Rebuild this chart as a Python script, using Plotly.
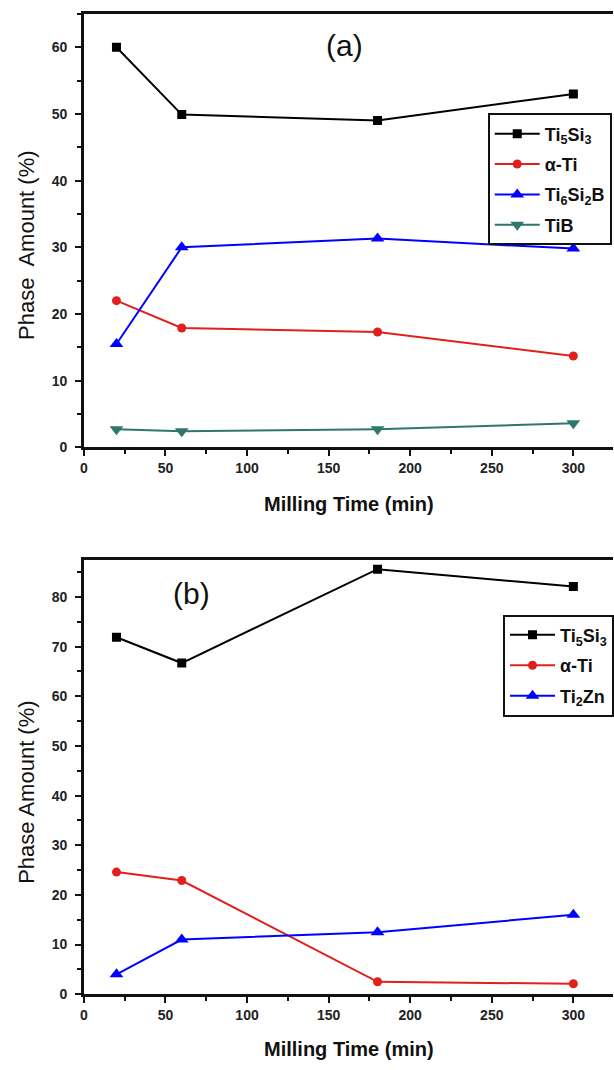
import plotly.graph_objects as go

# ---------------- data ----------------
time_min = [20, 60, 180, 300]

# panel (a)
a_ti5si3 = [60.0, 49.9, 49.0, 53.0]
a_alpha_ti = [22.0, 17.9, 17.3, 13.7]
a_ti6si2b = [15.5, 30.0, 31.3, 29.8]
a_tib = [2.7, 2.4, 2.7, 3.6]

# panel (b)
b_ti5si3 = [71.9, 66.7, 85.6, 82.1]
b_alpha_ti = [24.6, 22.9, 2.5, 2.1]
b_ti2zn = [4.0, 11.0, 12.5, 16.0]

x_ticks = [0, 50, 100, 150, 200, 250, 300]
ya_ticks = [0, 10, 20, 30, 40, 50, 60]
yb_ticks = [0, 10, 20, 30, 40, 50, 60, 70, 80]

# ---------------- figure ----------------
W, H = 614, 1070
FONT = "Arial, Liberation Sans, sans-serif"

BLACK = "#000000"
RED = "#e0201c"
BLUE = "#0000ff"
TEAL = "#2f776c"

fig = go.Figure()

def add(x, y, name, color, symbol, size, xa, ya, legend, group):
    fig.add_trace(go.Scatter(
        x=x, y=y, name=name, mode="lines+markers",
        line=dict(color=color, width=2),
        marker=dict(symbol=symbol, size=size, color=color),
        xaxis=xa, yaxis=ya, legend=legend, legendgroup=group,
    ))

add(time_min, a_ti5si3, "Ti<sub>5</sub>Si<sub>3</sub>", BLACK, "square", 9, "x", "y", "legend", "a1")
add(time_min, a_alpha_ti, "α-Ti", RED, "circle", 9, "x", "y", "legend", "a2")
add(time_min, a_ti6si2b, "Ti<sub>6</sub>Si<sub>2</sub>B", BLUE, "triangle-up", 12, "x", "y", "legend", "a3")
add(time_min, a_tib, "TiB", TEAL, "triangle-down", 12, "x", "y", "legend", "a4")

add(time_min, b_ti5si3, "Ti<sub>5</sub>Si<sub>3</sub>", BLACK, "square", 9, "x2", "y2", "legend2", "b1")
add(time_min, b_alpha_ti, "α-Ti", RED, "circle", 9, "x2", "y2", "legend2", "b2")
add(time_min, b_ti2zn, "Ti<sub>2</sub>Zn", BLUE, "triangle-up", 12, "x2", "y2", "legend2", "b3")

x_dom = [80.5 / W, 1.0]
ya_dom = [1 - 450.7 / H, 1 - 14 / H]
yb_dom = [1 - 1001.7 / H, 1 - 564 / H]

tickfont = dict(family=FONT, size=14, color="#222", weight="bold")

def xaxis_cfg(anchor):
    return dict(
        domain=x_dom, anchor=anchor, range=[0, 324.3],
        tickmode="array", tickvals=x_ticks, ticktext=[str(v) for v in x_ticks],
        ticks="outside", ticklen=6, tickwidth=2, tickcolor="#111",
        minor=dict(dtick=25, tick0=0, ticks="outside", ticklen=4, tickwidth=2, tickcolor="#111"),
        showline=True, linewidth=2.5, linecolor="#111", mirror=True,
        showgrid=False, zeroline=False, tickfont=tickfont,
    )

def yaxis_cfg(anchor, dom, rng, ticks):
    return dict(
        domain=dom, anchor=anchor, range=rng,
        tickmode="array", tickvals=ticks, ticktext=[str(v) for v in ticks],
        ticks="outside", ticklen=6, tickwidth=2, tickcolor="#111",
        minor=dict(dtick=5, tick0=0, ticks="outside", ticklen=4, tickwidth=2, tickcolor="#111"),
        showline=True, linewidth=2.5, linecolor="#111", mirror=False,
        showgrid=False, zeroline=False, tickfont=tickfont, ticklabelstandoff=5,
    )

legend_common = dict(
    xanchor="left", yanchor="top",
    bgcolor="white", bordercolor="#111", borderwidth=2,
    font=dict(family=FONT, size=18, color="#111", weight="bold"),
    itemwidth=45, tracegroupgap=4,
)

fig.update_layout(
    width=W, height=H,
    margin=dict(l=0, r=0, t=0, b=0),
    paper_bgcolor="white", plot_bgcolor="white",
    font=dict(family=FONT, color="#111"),
    xaxis=xaxis_cfg("y"),
    yaxis=yaxis_cfg("x", ya_dom, [0, 65], ya_ticks),
    xaxis2=xaxis_cfg("y2"),
    yaxis2=yaxis_cfg("x2", yb_dom, [0, 87.5], yb_ticks),
    legend=dict(x=487.7 / W, y=1 - 114.3 / H, **legend_common),
    legend2=dict(x=503.3 / W, y=1 - 619.3 / H, **legend_common),
    showlegend=True,
)

annots = [
    dict(text="(a)", x=343 / W, y=1 - 46 / H, size=30, weight="normal", angle=0),
    dict(text="(b)", x=189 / W, y=1 - 598 / H, size=30, weight="normal", angle=0),
    dict(text="Milling Time (min)", x=348 / W, y=1 - 508 / H, size=20, weight="bold", angle=0),
    dict(text="Milling Time (min)", x=348 / W, y=1 - 1057 / H, size=20, weight="bold", angle=0),
    dict(text="Phase  Amount (%)", x=22 / W, y=1 - 247 / H, size=22, weight="normal", angle=-90),
    dict(text="Phase Amount (%)", x=22 / W, y=1 - 798 / H, size=22, weight="normal", angle=-90),
]
for a in annots:
    fig.add_annotation(
        text=a["text"], x=a["x"], y=a["y"], xref="paper", yref="paper",
        xanchor="center", yanchor="middle", showarrow=False, textangle=a["angle"],
        font=dict(family=FONT, size=a["size"], color="#111", weight=a["weight"]),
    )

fig.write_html(
    "out.html",
    config={"displayModeBar": False},
    post_script="document.body.style.margin='0';document.body.style.overflow='hidden';",
)
